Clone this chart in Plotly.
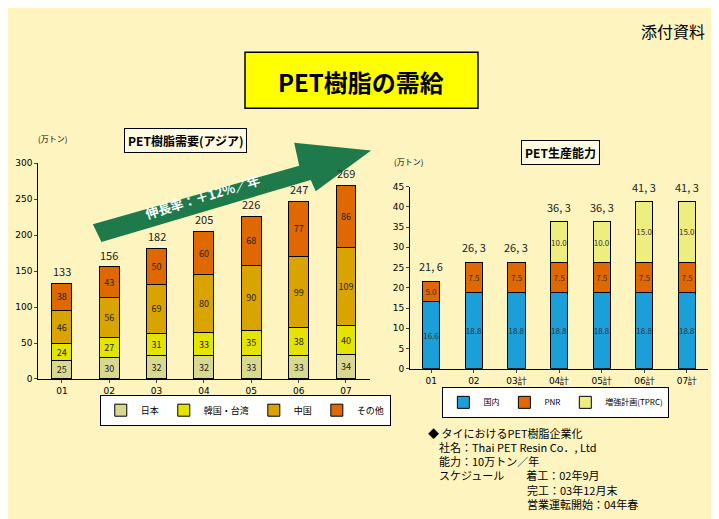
import plotly.graph_objects as go

years = ["01", "02", "03", "04", "05", "06", "07"]
japan = [25, 30, 32, 32, 33, 33, 34]
korea_taiwan = [24, 27, 31, 33, 35, 38, 40]
china = [46, 56, 69, 80, 90, 99, 109]
others = [38, 43, 50, 60, 68, 77, 86]
demand_total = [133, 156, 182, 205, 226, 247, 269]

cap_years = ["01", "02", "03計", "04計", "05計", "06計", "07計"]
domestic = [16.6, 18.8, 18.8, 18.8, 18.8, 18.8, 18.8]
pnr = [5.0, 7.5, 7.5, 7.5, 7.5, 7.5, 7.5]
tprc = [0, 0, 0, 10.0, 10.0, 15.0, 15.0]
cap_total = ["21.6", "26.3", "26.3", "36.3", "36.3", "41.3", "41.3"]

font = "Noto Sans CJK JP"
line = dict(color="black", width=1)
fig = go.Figure()

for name, vals, col in [("日本", japan, "#d8d890"), ("韓国・台湾", korea_taiwan, "#e4e400"),
                        ("中国", china, "#d9a400"), ("その他", others, "#e06800")]:
    fig.add_trace(go.Bar(x=years, y=vals, name=name, marker=dict(color=col, line=line),
                         text=vals, textposition="inside", insidetextanchor="middle",
                         textangle=0, constraintext="none",
                         textfont=dict(size=9, color="#222"), width=0.42,
                         xaxis="x", yaxis="y", legend="legend"))

for name, vals, col in [("国内", domestic, "#1c9fd8"), ("PNR", pnr, "#e06800"),
                        ("増強計画(TPRC)", tprc, "#eded80")]:
    fig.add_trace(go.Bar(x=cap_years, y=vals, name=name, marker=dict(color=col, line=line),
                         text=[f"{v:.1f}" if v else "" for v in vals], textposition="inside",
                         insidetextanchor="middle", textangle=0, constraintext="none",
                         textfont=dict(size=8, color="#333"),
                         width=0.4, xaxis="x2", yaxis="y2", legend="legend2"))

ann = []
for i, t in enumerate(demand_total):
    ann.append(dict(x=i, y=t, xref="x", yref="y", text=str(t), showarrow=False,
                    yanchor="bottom", yshift=2, font=dict(size=11, color="#222")))
for i, (y, t) in enumerate(zip([d + p + q for d, p, q in zip(domestic, pnr, tprc)], cap_total)):
    ann.append(dict(x=i, y=y, xref="x2", yref="y2", text=t.replace(".", ", "), showarrow=False,
                    yanchor="bottom", yshift=5, font=dict(size=11, color="#222")))

def ptext(x, y, t, size=11, **kw):
    ann.append(dict(x=x / 719, y=1 - y / 519, xref="paper", yref="paper", text=t,
                    yanchor="middle", xanchor="center",
                    showarrow=False, font=dict(size=size, color="black", family=font), **kw))

ptext(665, 18, "添付資料", 16)
ptext(353, 70, "<b>PET樹脂の需給</b>", 24)
ptext(44, 128, "(万トン)", 8)
ptext(400, 151, "(万トン)", 8)
ptext(177, 130, "<b>PET樹脂需要(アジア)</b>", 12, bordercolor="black", borderwidth=1,
      bgcolor="#fffbe0", borderpad=3)
ptext(552, 142, "<b>PET生産能力</b>", 12, bordercolor="black", borderwidth=1,
      bgcolor="#fffbe0", borderpad=3)
ptext(195, 187, "<b>伸長率：＋12%／年</b>", 13, textangle=-17)
ann[-1]["font"]["color"] = "white"
lines = ["◆ タイにおけるPET樹脂企業化",
         "　社名：Thai PET Resin Co．, Ltd",
         "　能力：10万トン／年",
         "　スケジュール　　着工：02年9月",
         "　　　　　　　　　完工：03年12月末",
         "　　　　　　　　　営業運転開始：04年春"]
for i, t in enumerate(lines):
    ann.append(dict(x=418 / 719, y=1 - (428 + i * 14.5) / 519, xref="paper", yref="paper",
                    text=t, showarrow=False, xanchor="left", yanchor="middle",
                    font=dict(size=11, color="black", family=font)))

shapes = [
    dict(type="rect", xref="paper", yref="paper", x0=237 / 719, x1=470 / 719,
         y0=1 - 97 / 519, y1=1 - 40 / 519, fillcolor="#ffff00",
         line=dict(color="black", width=1.5), layer="below"),
    dict(type="path", xref="paper", yref="paper", layer="below",
         path=("M 0.118,0.585 L 0.405,0.700 L 0.398,0.745 L 0.505,0.730 "
               "L 0.428,0.650 L 0.421,0.672 L 0.130,0.550 Z"),
         fillcolor="#1e7a4a", line=dict(width=0)),
]

axis_common = dict(showline=True, linecolor="black", ticks="outside", ticklen=3,
                   tickfont=dict(size=9, color="black", family="DejaVu Sans"), showgrid=False,
                   zeroline=False, fixedrange=True)
fig.update_layout(
    width=719, height=519, margin=dict(l=0, r=0, t=0, b=0),
    paper_bgcolor="#fdf4c0", plot_bgcolor="rgba(0,0,0,0)", barmode="stack",
    font=dict(family=font), showlegend=True,
    xaxis=dict(domain=[0.042, 0.503], anchor="y", type="category", **axis_common),
    yaxis=dict(domain=[0.281, 0.705], range=[0, 300], dtick=50, anchor="x", **axis_common),
    xaxis2=dict(domain=[0.559, 0.974], anchor="y2", type="category", **axis_common),
    yaxis2=dict(domain=[0.301, 0.659], range=[0, 45], dtick=5, anchor="x2", **axis_common),
    legend=dict(orientation="h", x=0.33, y=1 - 405 / 519, xanchor="center", yanchor="middle",
                bgcolor="white", bordercolor="black", borderwidth=1, itemwidth=30,
                font=dict(size=9, color="black"), traceorder="normal"),
    legend2=dict(orientation="h", x=0.762, y=1 - 397 / 519, xanchor="center", yanchor="middle",
                 bgcolor="white", bordercolor="black", borderwidth=1, itemwidth=30,
                 font=dict(size=8, color="black"), traceorder="normal"),
    annotations=ann, shapes=shapes,
)
fig.write_html("out.html")
